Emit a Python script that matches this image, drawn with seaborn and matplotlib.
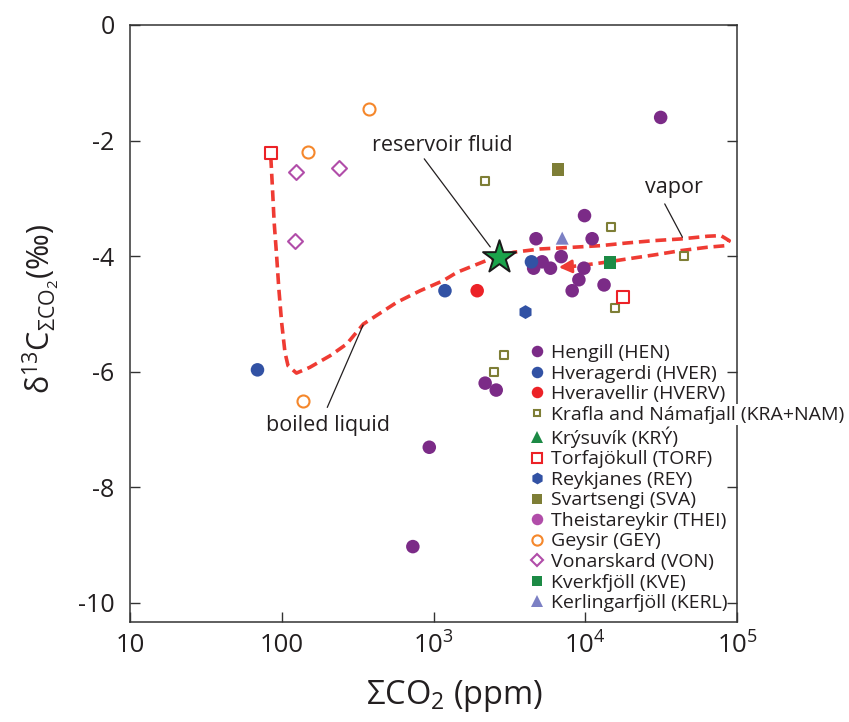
import numpy as np
import pandas as pd
import matplotlib
matplotlib.use("Agg")
import matplotlib.pyplot as plt
from matplotlib.lines import Line2D
import seaborn as sns

# ---------------- data ----------------
groups = ["Hengill (HEN)", "Hveragerdi (HVER)", "Hveravellir (HVERV)",
          "Krafla and Námafjall (KRA+NAM)", "Krýsuvík (KRÝ)", "Torfajökull (TORF)",
          "Reykjanes (REY)", "Svartsengi (SVA)", "Theistareykir (THEI)",
          "Geysir (GEY)", "Vonarskard (VON)", "Kverkfjöll (KVE)", "Kerlingarfjöll (KERL)"]

hen_co2 = [31400, 9890, 4740, 11100, 5200, 4570, 5900, 6940, 9800, 9080, 8200, 13300, 2190, 2590, 938, 731]
hen_d13c = [-1.60, -3.30, -3.70, -3.70, -4.10, -4.21, -4.21, -4.01, -4.21, -4.41, -4.60, -4.50, -6.20, -6.32, -7.31, -9.03]
hver_co2 = [4420, 1190, 69.2]
hver_d13c = [-4.10, -4.60, -5.97]
hverv_co2 = [1940]
hverv_d13c = [-4.60]
kra_co2 = [2190, 14700, 44800, 15600, 2930, 2490]
kra_d13c = [-2.70, -3.50, -4.00, -4.90, -5.71, -6.01]
kry_co2 = []
kry_d13c = []
torf_co2 = [84.7, 17800]
torf_d13c = [-2.21, -4.71]
rey_co2 = [4040]
rey_d13c = [-4.97]
sva_co2 = [6590]
sva_d13c = [-2.50]
thei_co2 = []
thei_d13c = []
gey_co2 = [378, 149, 138]
gey_d13c = [-1.46, -2.19, -6.51]
von_co2 = [125, 239, 123]
von_d13c = [-2.55, -2.48, -3.74]
kve_co2 = [14600]
kve_d13c = [-4.11]
kerl_co2 = [7050]
kerl_d13c = [-3.69]

reservoir_co2 = [2690]
reservoir_d13c = [-4.02]

# boiling / vapor-separation path (dashed red curve)
curve_co2 = [84.7, 86.9, 89.1, 92.5, 95.7, 99.8, 105, 110, 125, 153, 208, 268, 345, 573, 817,
             1160, 1430, 1840, 2370, 3370, 5070, 8410, 12600, 18900, 28400, 42600, 64000,
             78300, 88900, 84500, 64000, 42600, 28400, 18900, 12600, 8410]
curve_d13c = [-2.288, -2.837, -3.414, -3.993, -4.570, -5.147, -5.667, -5.899, -6.026, -5.927,
              -5.726, -5.523, -5.177, -4.801, -4.600, -4.426, -4.281, -4.166, -4.050, -3.934,
              -3.877, -3.847, -3.820, -3.773, -3.733, -3.704, -3.657, -3.646, -3.733, -3.820,
              -3.847, -3.906, -3.981, -4.050, -4.120, -4.177]
arrow_tip_co2 = 6700
arrow_tip_d13c = -4.194

x_ticks = [10, 100, 1e3, 1e4, 1e5]
x_ticklabels = ["10", "100", r"$\mathregular{10^3}$", r"$\mathregular{10^4}$", r"$\mathregular{10^5}$"]
y_ticks = [0, -2, -4, -6, -8, -10]
y_ticklabels = ["0", "-2", "-4", "-6", "-8", "-10"]

# ---------------- styles ----------------
PURPLE = "#7B2B87"
BLUE = "#3252A4"
RED = "#EC2227"
OLIVE = "#7E7E36"
GREEN = "#1C8A45"
MAGENTA = "#B14DA9"
ORANGE = "#F5872B"
LAVENDER = "#7C80C4"
DASHRED = "#EF3B33"
TXT = "#231F20"

styles = {
    "Hengill (HEN)": dict(marker="o", fc=PURPLE, ec="none", s=95, lw=0),
    "Hveragerdi (HVER)": dict(marker="o", fc=BLUE, ec="none", s=95, lw=0),
    "Hveravellir (HVERV)": dict(marker="o", fc=RED, ec="none", s=95, lw=0),
    "Krafla and Námafjall (KRA+NAM)": dict(marker="s", fc="white", ec=OLIVE, s=28, lw=1.5),
    "Krýsuvík (KRÝ)": dict(marker="^", fc=GREEN, ec="none", s=88, lw=0),
    "Torfajökull (TORF)": dict(marker="s", fc="white", ec=RED, s=72, lw=1.5),
    "Reykjanes (REY)": dict(marker="h", fc=BLUE, ec="none", s=100, lw=0),
    "Svartsengi (SVA)": dict(marker="s", fc=OLIVE, ec="none", s=80, lw=0),
    "Theistareykir (THEI)": dict(marker="o", fc=MAGENTA, ec="none", s=95, lw=0),
    "Geysir (GEY)": dict(marker="o", fc="white", ec=ORANGE, s=75, lw=1.5),
    "Vonarskard (VON)": dict(marker="D", fc="white", ec=MAGENTA, s=58, lw=1.5),
    "Kverkfjöll (KVE)": dict(marker="s", fc=GREEN, ec="none", s=80, lw=0),
    "Kerlingarfjöll (KERL)": dict(marker="^", fc=LAVENDER, ec="none", s=88, lw=0),
}

group_data = {
    "Hengill (HEN)": (hen_co2, hen_d13c),
    "Hveragerdi (HVER)": (hver_co2, hver_d13c),
    "Hveravellir (HVERV)": (hverv_co2, hverv_d13c),
    "Krafla and Námafjall (KRA+NAM)": (kra_co2, kra_d13c),
    "Krýsuvík (KRÝ)": (kry_co2, kry_d13c),
    "Torfajökull (TORF)": (torf_co2, torf_d13c),
    "Reykjanes (REY)": (rey_co2, rey_d13c),
    "Svartsengi (SVA)": (sva_co2, sva_d13c),
    "Theistareykir (THEI)": (thei_co2, thei_d13c),
    "Geysir (GEY)": (gey_co2, gey_d13c),
    "Vonarskard (VON)": (von_co2, von_d13c),
    "Kverkfjöll (KVE)": (kve_co2, kve_d13c),
    "Kerlingarfjöll (KERL)": (kerl_co2, kerl_d13c),
}

# ---------------- figure ----------------
sns.set_theme(style="ticks")
plt.rcParams["font.family"] = ["Open Sans", "DejaVu Sans"]
plt.rcParams["mathtext.fontset"] = "custom"
plt.rcParams["mathtext.rm"] = "Open Sans"
plt.rcParams["mathtext.it"] = "Open Sans:italic"
plt.rcParams["mathtext.bf"] = "Open Sans:bold"
plt.rcParams["mathtext.sf"] = "Open Sans"
plt.rcParams["text.color"] = TXT
plt.rcParams["axes.labelcolor"] = TXT

fig = plt.figure(figsize=(8.49, 7.22), dpi=100)
ax = fig.add_axes([130 / 849, (722 - 621.7) / 722, (737 - 130) / 849, (621.7 - 25) / 722])

# dashed boiling / vapor curve
curve_df = pd.DataFrame({"co2": curve_co2, "d13c": curve_d13c})
sns.lineplot(data=curve_df, x="co2", y="d13c", sort=False, estimator=None, ax=ax,
             color=DASHRED, lw=2.6, zorder=2)
ax.lines[-1].set_dashes((3.0, 1.6))
ax.lines[-1].set_dash_capstyle("butt")
ax.annotate("", xy=(arrow_tip_co2, arrow_tip_d13c), xytext=(curve_co2[-1], curve_d13c[-1]),
            arrowprops=dict(arrowstyle="-|>,head_length=0.55,head_width=0.28", color=DASHRED,
                            lw=2.0, shrinkA=0, shrinkB=0, mutation_scale=14), zorder=2)

# group points
for g in groups:
    xs, ys = group_data[g]
    if len(xs) == 0:
        continue
    st = styles[g]
    df = pd.DataFrame({"co2": xs, "d13c": ys})
    sns.scatterplot(data=df, x="co2", y="d13c", ax=ax, marker=st["marker"], s=st["s"],
                    facecolor=st["fc"], edgecolor=st["ec"], linewidth=st["lw"], zorder=3,
                    legend=False)

# reservoir fluid star
star_df = pd.DataFrame({"co2": reservoir_co2, "d13c": reservoir_d13c})
sns.scatterplot(data=star_df, x="co2", y="d13c", ax=ax, marker="*", s=620,
                facecolor="#1BA34B", edgecolor="#1A1A1A", linewidth=1.4, zorder=5, legend=False)

# annotations
ax.text(1146, -2.087, "reservoir fluid", ha="center", va="center", fontsize=15.5, color=TXT)
ax.annotate("", xy=(2366, -3.842), xytext=(869, -2.317),
            arrowprops=dict(arrowstyle="-", color=TXT, lw=0.9, shrinkA=0, shrinkB=0), zorder=4)
ax.text(38600, -2.82, "vapor", ha="center", va="center", fontsize=15.5, color=TXT)
ax.annotate("", xy=(43700, -3.674), xytext=(33400, -3.097),
            arrowprops=dict(arrowstyle="-", color=TXT, lw=0.9, shrinkA=0, shrinkB=0), zorder=4)
ax.text(202, -6.94, "boiled liquid", ha="center", va="center", fontsize=15.5, color=TXT)
ax.annotate("", xy=(343.6, -5.194), xytext=(199.5, -6.62),
            arrowprops=dict(arrowstyle="-", color=TXT, lw=0.9, shrinkA=0, shrinkB=0), zorder=4)

# axes
ax.set_xscale("log")
ax.set_xlim(10, 1e5)
ax.set_ylim(-10.33, 0)
ax.set_xticks(x_ticks)
ax.set_xticklabels(x_ticklabels)
ax.xaxis.set_minor_locator(matplotlib.ticker.NullLocator())
ax.set_yticks(y_ticks)
ax.set_yticklabels(y_ticklabels)
ax.tick_params(axis="both", direction="in", length=7, width=1.0, color="#333333",
               labelcolor=TXT)
ax.tick_params(axis="y", right=True, labelsize=18, pad=11)
ax.tick_params(axis="x", labelsize=18.5, pad=8)
for sp in ax.spines.values():
    sp.set_visible(True)
    sp.set_color("#333333")
    sp.set_linewidth(1.1)

ax.set_xlabel(r"$\mathregular{\Sigma CO_2}$ (ppm)", fontsize=23.5)
ax.set_ylabel(r"$\mathregular{\delta^{13}C_{\Sigma CO_2}(‰)}$", fontsize=22)
ax.xaxis.set_label_coords(0.535, -0.094)
ax.yaxis.set_label_coords(-0.112, 0.525)

# legend
handles = []
for g in groups:
    st = styles[g]
    ms = np.sqrt(st["s"]) * 0.85
    handles.append(Line2D([], [], linestyle="none", marker=st["marker"], markersize=ms,
                          markerfacecolor=st["fc"], markeredgecolor=st["ec"],
                          markeredgewidth=st["lw"], label=g))
leg = ax.legend(handles=handles, loc="upper left", bbox_to_anchor=(0.655, 0.465),
                frameon=False, fontsize=14, handlelength=0.93, handletextpad=0.28,
                labelspacing=0.13, borderpad=0, borderaxespad=0)
for t in leg.get_texts():
    t.set_color(TXT)
    if "KRA+NAM" in t.get_text():
        t.set_bbox(dict(facecolor="white", edgecolor="none", pad=1))

fig.savefig("out.png", dpi=100)
